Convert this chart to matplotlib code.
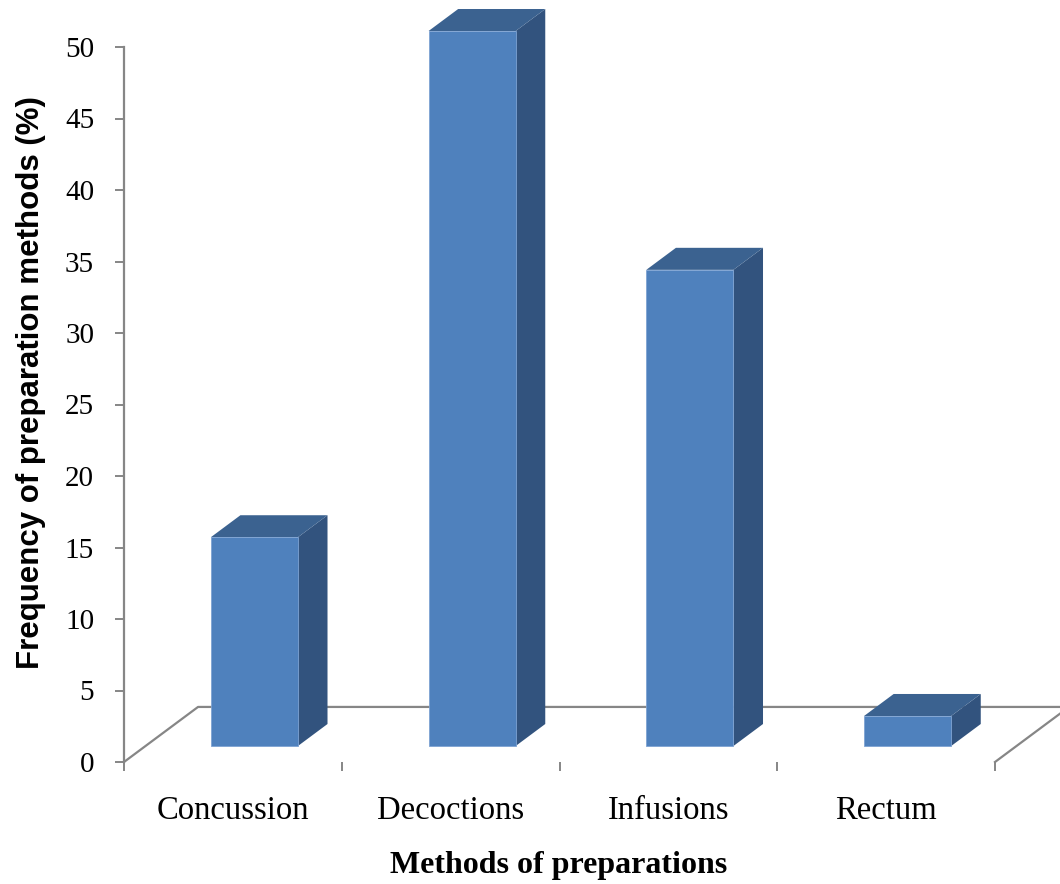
import matplotlib.pyplot as plt
from matplotlib.patches import Polygon

# data
categories = ['Concussion', 'Decoctions', 'Infusions', 'Rectum']
values = [14.6, 50.0, 33.3, 2.1]
yticks = [0, 5, 10, 15, 20, 25, 30, 35, 40, 45, 50]

# colours of the 3-D columns
front_col = '#4f81bd'
side_col = '#32537e'
top_col = '#3b6290'
grey = '#868686'

fig = plt.figure(figsize=(10.6, 8.84), dpi=100)
ax = fig.add_axes([124 / 1060, 122 / 884, 871 / 1060, 715 / 884])
ax.set_xlim(-0.5, len(categories) - 0.5)
ax.set_ylim(0, 50)

# depth of the floor (in data units) and where the columns sit in it
ddx, ddy = 0.34, 3.85
d0, d1 = 0.29, 0.69
width = 0.4

# floor of the 3-D plot
x0, x1 = -0.5, len(categories) - 0.5
floor = [(x0, 0), (x0 + ddx, ddy), (x1 + ddx, ddy), (x1, 0)]
ax.plot([p[0] for p in floor], [p[1] for p in floor], color=grey, lw=1.6,
        clip_on=False, zorder=1)

# columns
for i, v in enumerate(values):
    fx = i - width / 2 + d0 * ddx
    fy = d0 * ddy
    bx = (d1 - d0) * ddx
    by = (d1 - d0) * ddy
    front = [(fx, fy), (fx + width, fy), (fx + width, fy + v), (fx, fy + v)]
    side = [(fx + width, fy), (fx + width + bx, fy + by),
            (fx + width + bx, fy + v + by), (fx + width, fy + v)]
    top = [(fx, fy + v), (fx + width, fy + v),
           (fx + width + bx, fy + v + by), (fx + bx, fy + v + by)]
    ax.add_patch(Polygon(side, closed=True, fc=side_col, ec='none', zorder=3, clip_on=False))
    ax.add_patch(Polygon(top, closed=True, fc=top_col, ec='none', zorder=3, clip_on=False))
    ax.add_patch(Polygon(front, closed=True, fc=front_col, ec='#7ea3d3', lw=0.6,
                         zorder=4, clip_on=False))

# axes look
for s in ['top', 'right', 'bottom']:
    ax.spines[s].set_visible(False)
ax.spines['left'].set_color(grey)
ax.spines['left'].set_linewidth(1.6)

ax.set_yticks(yticks)
ax.set_yticklabels([str(t) for t in yticks], family='Liberation Serif', fontsize=21)
ax.tick_params(axis='y', direction='out', length=6.5, width=1.4, color=grey, pad=15)

ax.set_xticks(range(len(categories)))
ax.set_xticklabels(categories, family='Liberation Serif', fontsize=23.5)
ax.set_xticks([i - 0.5 for i in range(len(categories) + 1)], minor=True)
ax.tick_params(axis='x', which='major', length=0, pad=24)
ax.tick_params(axis='x', which='minor', direction='out', length=6.5, width=1.4, color=grey)

ax.set_xlabel('Methods of preparations', family='Liberation Serif', fontweight='bold',
              fontsize=23)
ax.xaxis.set_label_coords(0.499, -0.124)
ax.set_ylabel('Frequency of preparation methods (%)',
              family='Liberation Sans', fontweight='bold', fontsize=22.5)
ax.yaxis.set_label_coords(-0.09, 0.53)

fig.savefig('out.png', dpi=100)
